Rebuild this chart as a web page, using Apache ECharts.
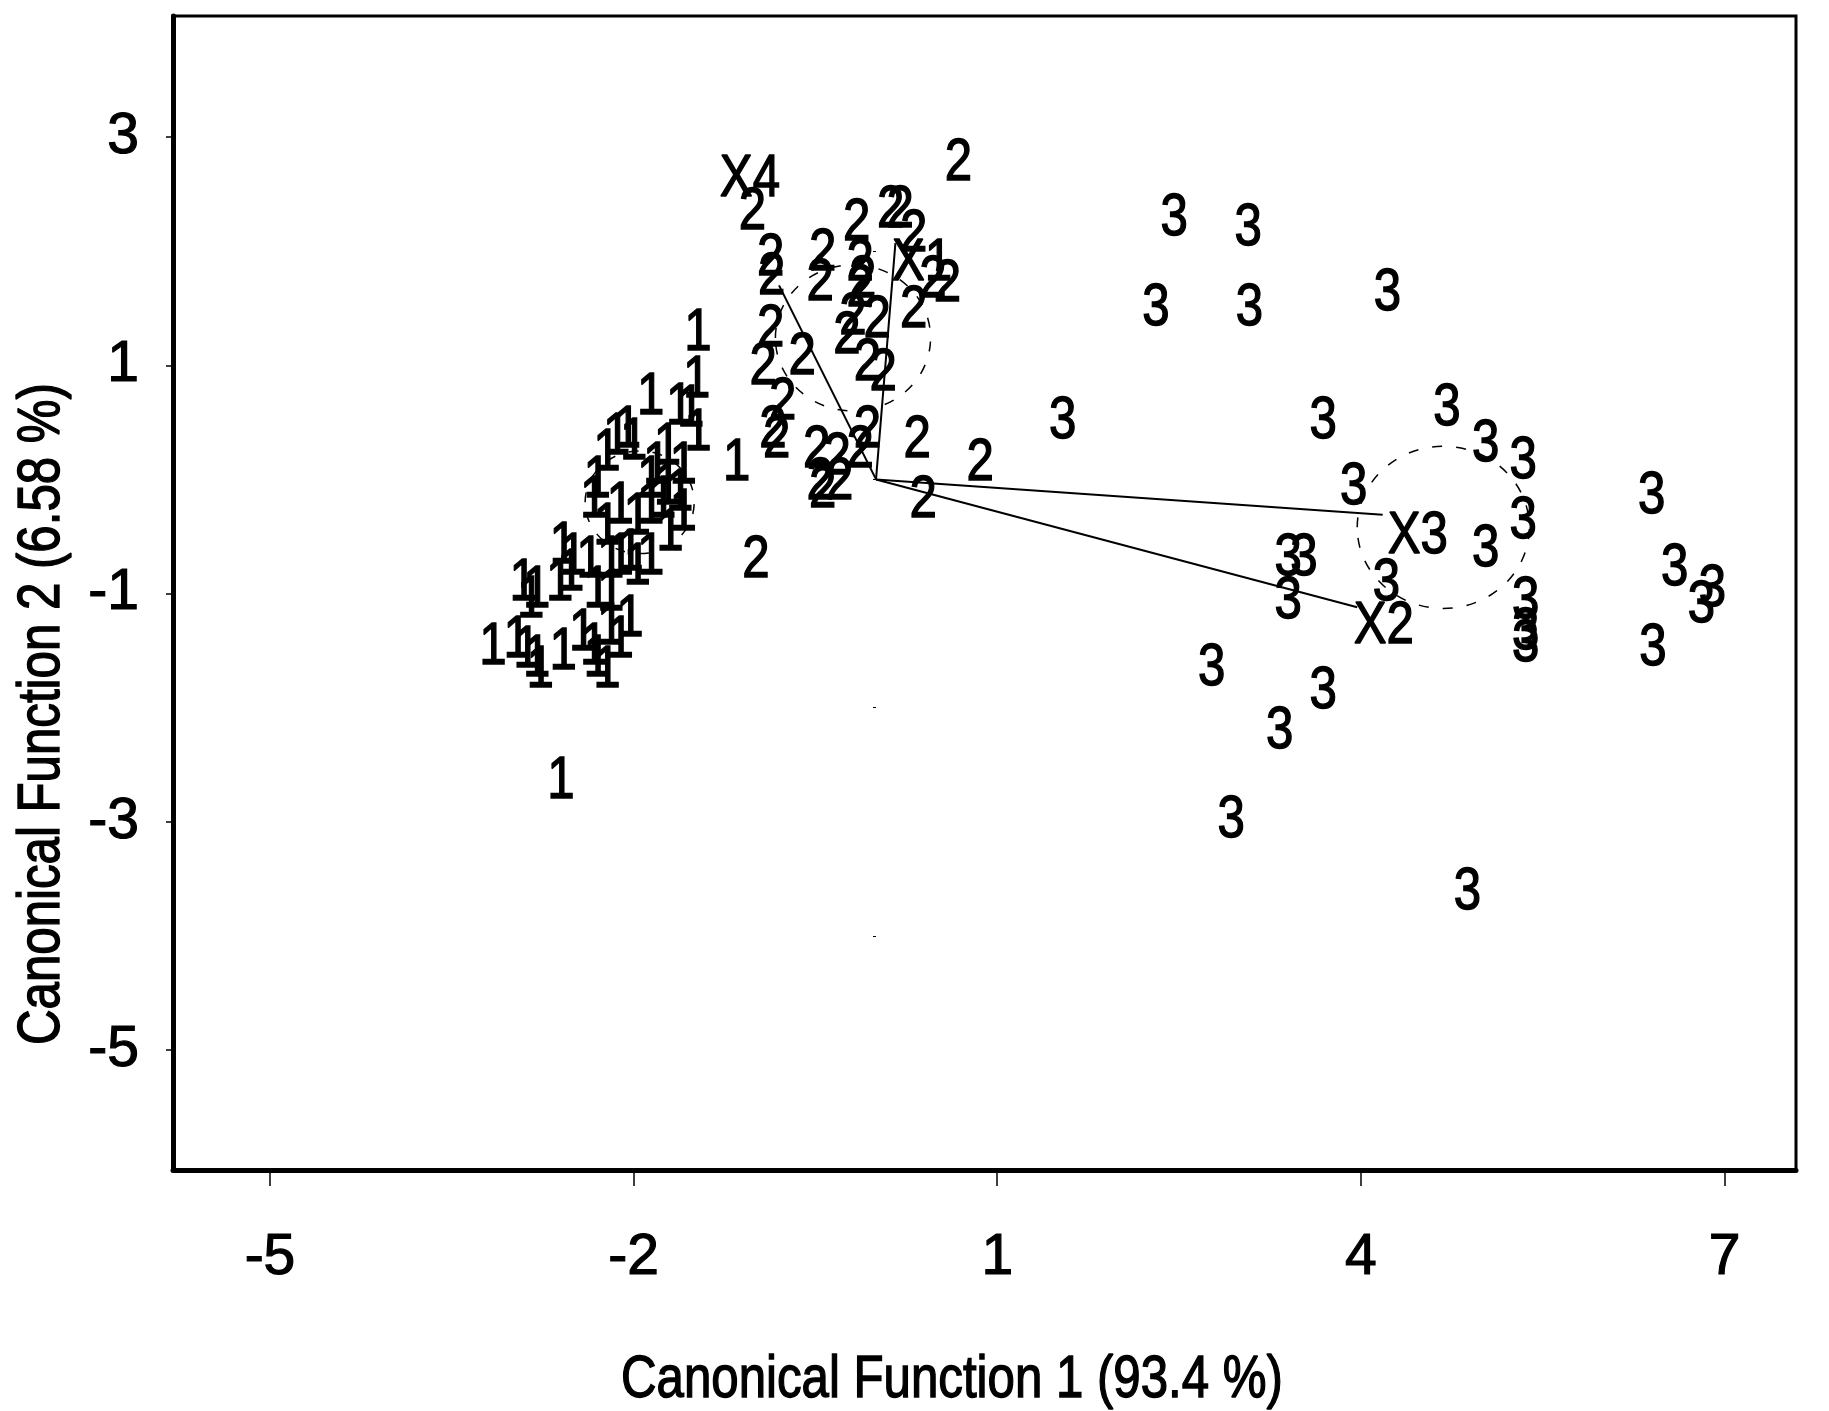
<!DOCTYPE html>
<html>
<head>
<meta charset="utf-8">
<script src="https://cdn.jsdelivr.net/npm/echarts@6/dist/echarts.min.js"></script>
<style>
html, body { margin: 0; padding: 0; background: #fff; }
#chart { width: 1829px; height: 1411px; }
</style>
</head>
<body>
<div id="chart"></div>
<script>
var FONT = "'Liberation Sans', Arial, sans-serif";
var NARROW = 0.82;   // the original uses a narrow Helvetica/Arial

// axis ticks
var xTicks = [-5, -2, 1, 4, 7];
var yTicks = [3, 1, -1, -3, -5];
var yMinorTicks = [2, 0, -2, -4];

// canonical scores (group label = digit shown)
var group1 = [
  [-1.47, 1.28], [-1.86, 0.72], [-1.48, 0.87], [-1.53, 0.61], [-1.47, 0.40], [-1.62, 0.63],
  [-1.15, 0.14], [-2.05, 0.43], [-2.00, 0.32], [-2.22, 0.23], [-2.14, 0.37], [-1.72, 0.28],
  [-1.81, 0.11], [-1.86, -0.01], [-1.72, -0.07], [-1.59, 0.11], [-2.30, -0.01], [-2.33, -0.18],
  [-2.11, -0.24], [-2.22, -0.42], [-1.97, -0.33], [-1.86, -0.24], [-1.76, -0.18], [-1.62, -0.12],
  [-1.59, -0.30], [-1.70, -0.47], [-2.58, -0.59], [-2.50, -0.68], [-2.36, -0.71], [-2.19, -0.71],
  [-2.11, -0.68], [-2.03, -0.65], [-1.97, -0.77], [-1.86, -0.68], [-2.52, -0.82], [-2.61, -0.91],
  [-2.91, -0.91], [-2.80, -0.97], [-2.85, -1.06], [-2.30, -0.97], [-2.19, -1.00], [-3.16, -1.47],
  [-2.96, -1.41], [-2.88, -1.50], [-2.80, -1.58], [-2.77, -1.67], [-2.58, -1.52], [-2.42, -1.35],
  [-2.33, -1.47], [-2.30, -1.58], [-2.19, -1.30], [-2.11, -1.41], [-2.22, -1.67], [-2.03, -1.23],
  [-2.60, -2.65]
];
var group2 = [
  [0.68, 2.77], [-1.02, 2.34], [-0.87, 1.94], [-0.86, 1.77], [-0.44, 1.98], [-0.46, 1.72],
  [-0.16, 2.24], [0.12, 2.36], [0.20, 2.36], [0.31, 2.15], [-0.13, 1.89], [-0.11, 1.74],
  [-0.13, 1.66], [0.47, 1.74], [0.59, 1.71], [0.31, 1.48], [-0.19, 1.42], [0.01, 1.39],
  [-0.24, 1.25], [-0.87, 1.31], [-0.61, 1.07], [-0.93, 0.98], [-0.07, 1.02], [0.06, 0.93],
  [-0.77, 0.67], [-0.85, 0.43], [-0.82, 0.34], [-0.49, 0.25], [-0.32, 0.19], [-0.13, 0.25],
  [-0.07, 0.43], [0.34, 0.34], [-0.46, -0.03], [-0.30, -0.03], [-0.44, -0.10], [0.86, 0.14],
  [0.39, -0.18], [-0.99, -0.71]
];
var group3 = [
  [2.46, 2.29], [3.07, 2.20], [2.31, 1.50], [3.08, 1.50], [4.22, 1.63], [1.54, 0.51],
  [3.69, 0.51], [4.71, 0.62], [5.03, 0.31], [5.34, 0.16], [3.94, -0.07], [6.40, -0.15],
  [5.34, -0.37], [5.03, -0.61], [3.40, -0.69], [3.53, -0.69], [4.21, -0.91], [3.40, -1.07],
  [6.59, -0.78], [6.90, -0.96], [6.81, -1.10], [5.36, -1.07], [5.36, -1.34], [5.36, -1.45],
  [6.41, -1.48], [2.77, -1.66], [3.69, -1.86], [3.33, -2.21], [2.93, -2.99], [4.88, -3.62]
];

// structure vectors
var vectorNames = ['X1', 'X2', 'X3', 'X4'];
var vectorTips = [[0.16, 2.07], [3.97, -1.12], [4.18, -0.31], [-0.80, 1.70]];
var vectorLabelAt = [[0.38, 1.89], [4.19, -1.29], [4.47, -0.50], [-1.04, 2.63]];

// confidence circles around group means
var circleCenters = [[-1.95, -0.20], [-0.19, 1.24], [4.68, -0.42]];
var circleRadius = [0.45, 0.64, 0.71];

var chart = echarts.init(document.getElementById('chart'), null, {renderer: 'canvas'});

function narrowText(text) {
  return {
    text: text,
    fill: '#000',
    stroke: '#000',
    lineWidth: 1.4,
    font: '60px ' + FONT,
    align: 'center',
    verticalAlign: 'middle'
  };
}

// digits / names drawn as narrow text centred on the data point
function textSeries(name, pts, labels) {
  return {
    type: 'custom',
    name: name,
    silent: true,
    z: 5,
    data: pts,
    renderItem: function (params, api) {
      var p = api.coord([api.value(0), api.value(1)]);
      return {
        type: 'text',
        x: p[0], y: p[1],
        scaleX: NARROW,
        style: narrowText(labels ? labels[params.dataIndex] : name)
      };
    }
  };
}

var tickLabel = {
  color: '#000', fontSize: 57, fontFamily: FONT,
  textBorderColor: '#000', textBorderWidth: 1.2
};

var option = {
  animation: false,
  backgroundColor: '#fff',
  grid: {
    left: 173, right: 33, top: 16, bottom: 241,
    show: true, borderColor: '#000', borderWidth: 3
  },
  graphic: [{
    type: 'text',
    x: 952, y: 1380,
    scaleX: NARROW,
    style: narrowText('Canonical Function 1 (93.4 %)')
  }, {
    type: 'text',
    x: 42, y: 714,
    rotation: Math.PI / 2,
    scaleX: NARROW,
    style: narrowText('Canonical Function 2 (6.58 %)')
  }],
  xAxis: {
    type: 'value',
    min: -5.8, max: 7.59,
    splitLine: {show: false},
    axisLine: {show: true, onZero: false, lineStyle: {color: '#000', width: 5}},
    axisTick: {show: true, length: 16, customValues: xTicks, lineStyle: {color: '#000', width: 1.5}},
    axisLabel: Object.assign({customValues: xTicks, margin: 60}, tickLabel)
  },
  yAxis: [{
    type: 'value',
    min: -6.05, max: 4.06,
    splitLine: {show: false},
    axisLine: {show: true, onZero: false, lineStyle: {color: '#000', width: 5}},
    axisTick: {show: true, length: 7, customValues: yTicks, lineStyle: {color: '#000', width: 1.5}},
    axisLabel: Object.assign({customValues: yTicks, margin: 34}, tickLabel)
  }, {
    type: 'value',
    position: 'left',
    min: -6.05, max: 4.06,
    splitLine: {show: false},
    axisLine: {show: false},
    axisTick: {show: true, length: 3, customValues: yMinorTicks, lineStyle: {color: '#000', width: 1}},
    axisLabel: {show: false}
  }],
  series: [
    {
      type: 'custom',
      name: 'circles',
      silent: true,
      z: 2,
      data: circleCenters.map(function (c, i) { return [c[0], c[1], circleRadius[i]]; }),
      renderItem: function (params, api) {
        var c = api.coord([api.value(0), api.value(1)]);
        var r = api.value(2);
        var sz = api.size([r, r]);
        return {
          type: 'ellipse',
          shape: {cx: c[0], cy: c[1], rx: sz[0], ry: sz[1]},
          style: {fill: 'none', stroke: '#000', lineWidth: 1.5, lineDash: [10, 14]}
        };
      }
    },
    {
      type: 'custom',
      name: 'vectors',
      silent: true,
      z: 3,
      data: vectorTips,
      renderItem: function (params, api) {
        var o = api.coord([0, 0]);
        var t = api.coord([api.value(0), api.value(1)]);
        return {
          type: 'line',
          shape: {x1: o[0], y1: o[1], x2: t[0], y2: t[1]},
          style: {stroke: '#000', lineWidth: 2}
        };
      }
    },
    textSeries('vector labels', vectorLabelAt, vectorNames),
    textSeries('1', group1),
    textSeries('2', group2),
    textSeries('3', group3)
  ]
};

chart.setOption(option);
</script>
</body>
</html>
